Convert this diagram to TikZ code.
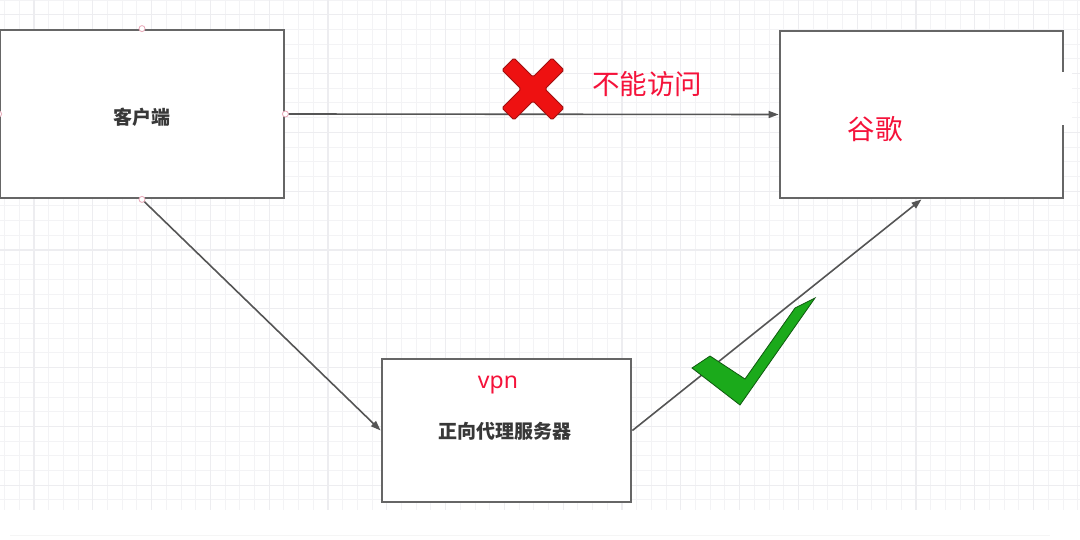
\documentclass[tikz,border=0pt]{standalone}
\usepackage{fontspec}
\setmainfont{Noto Sans}
\newfontfamily\cjk{Noto Sans CJK SC}
\usetikzlibrary{arrows.meta}
\definecolor{linegray}{HTML}{555555}
\definecolor{boxgray}{HTML}{666666}
\definecolor{redtxt}{HTML}{F5123A}
\definecolor{xred}{HTML}{EE1111}
\definecolor{xedge}{HTML}{A01010}
\definecolor{ckgreen}{HTML}{1BAA1B}
\definecolor{ckedge}{HTML}{0F5A0F}
\definecolor{gridminor}{HTML}{F3F3F5}
\definecolor{gridmajor}{HTML}{EDEDF0}
\definecolor{pinkpt}{HTML}{E8A8B8}
\tikzset{
  box/.style={draw=boxgray, line width=2.8pt, fill=white, inner sep=0pt},
  conn/.style={draw=linegray, line width=1.6pt, -{Triangle[length=10pt,width=7pt]}},
  blacklabel/.style={font=\cjk\bfseries\fontsize{19}{19}\selectfont, text=black!78},
  redlabel/.style={font=\cjk\fontsize{27.5}{27.5}\selectfont, text=redtxt},
  cpoint/.style={circle, draw=pinkpt, fill=white, line width=0.8pt, minimum size=6pt, inner sep=0pt}
}
\begin{document}
\begin{tikzpicture}[x=1pt,y=-1pt]
\useasboundingbox (0,0) rectangle (1080,540);
\fill[white] (0,0) rectangle (1080,540);
% grid
\foreach \i in {0,...,73} {
  \draw[gridminor, line width=1pt] ({4.6+\i*14.7},0) -- ({4.6+\i*14.7},510);
}
\foreach \j in {0,...,34} {
  \draw[gridminor, line width=1pt] (0,{0.1+\j*14.7}) -- (1080,{0.1+\j*14.7});
}
\foreach \i in {0,...,18} {
  \draw[gridmajor, line width=1.2pt] ({34+\i*58.8},0) -- ({34+\i*58.8},510);
}
\foreach \j in {0,...,8} {
  \draw[gridmajor, line width=1.2pt] (0,{14.8+\j*58.8}) -- (1080,{14.8+\j*58.8});
}
\draw[black!4, line width=1pt] (10,535) -- (1050,535);

% boxes
\node[box, minimum width=284pt, minimum height=168pt] (client) at (142,114) {};
\node[blacklabel] (clientlabel) at (142,117) {客户端};
\node[box, minimum width=283pt, minimum height=167pt] (google) at (921.5,114.5) {};
\fill[white] (1058,72) rectangle (1072,125);
\node[redlabel] (googlelabel) at (875,129) {谷歌};
\node[box, minimum width=249pt, minimum height=143pt] (proxy) at (506.5,430.5) {};
\node[font=\fontsize{23}{23}\selectfont, text=redtxt] (vpn) at (498,385) {vpn};
\node[blacklabel] (proxylabel) at (505,431) {正向代理服务器};

% connectors
\draw[conn] (client.east) -- (google.west);
\draw[conn] (client.south) -- (proxy.west);
\draw[conn] (proxy.east) -- (google.south);

% connection points
\node[cpoint] (cp1) at (client.north) {};
\node[cpoint] (cp2) at (client.west) {};
\node[cpoint] (cp3) at (client.east) {};
\node[cpoint] (cp4) at (client.south) {};

% red cross
\begin{scope}[shift={(533,89)}]
  \filldraw[fill=xred, draw=xedge, line width=0.9pt, rounded corners=1.5pt]
    (-31,-19) -- (-19,-31) -- (0,-12) -- (19,-31) -- (31,-19) -- (12,0)
    -- (31,19) -- (19,31) -- (0,12) -- (-19,31) -- (-31,19) -- (-12,0) -- cycle;
\end{scope}
\node[redlabel] (noaccess) at (647,84) {不能访问};

% green check
\filldraw[fill=ckgreen, draw=ckedge, line width=0.8pt]
  (692,368) -- (710,356) -- (745,379) -- (795,308) -- (815,298) -- (740,405) -- cycle;
\end{tikzpicture}
\end{document}
